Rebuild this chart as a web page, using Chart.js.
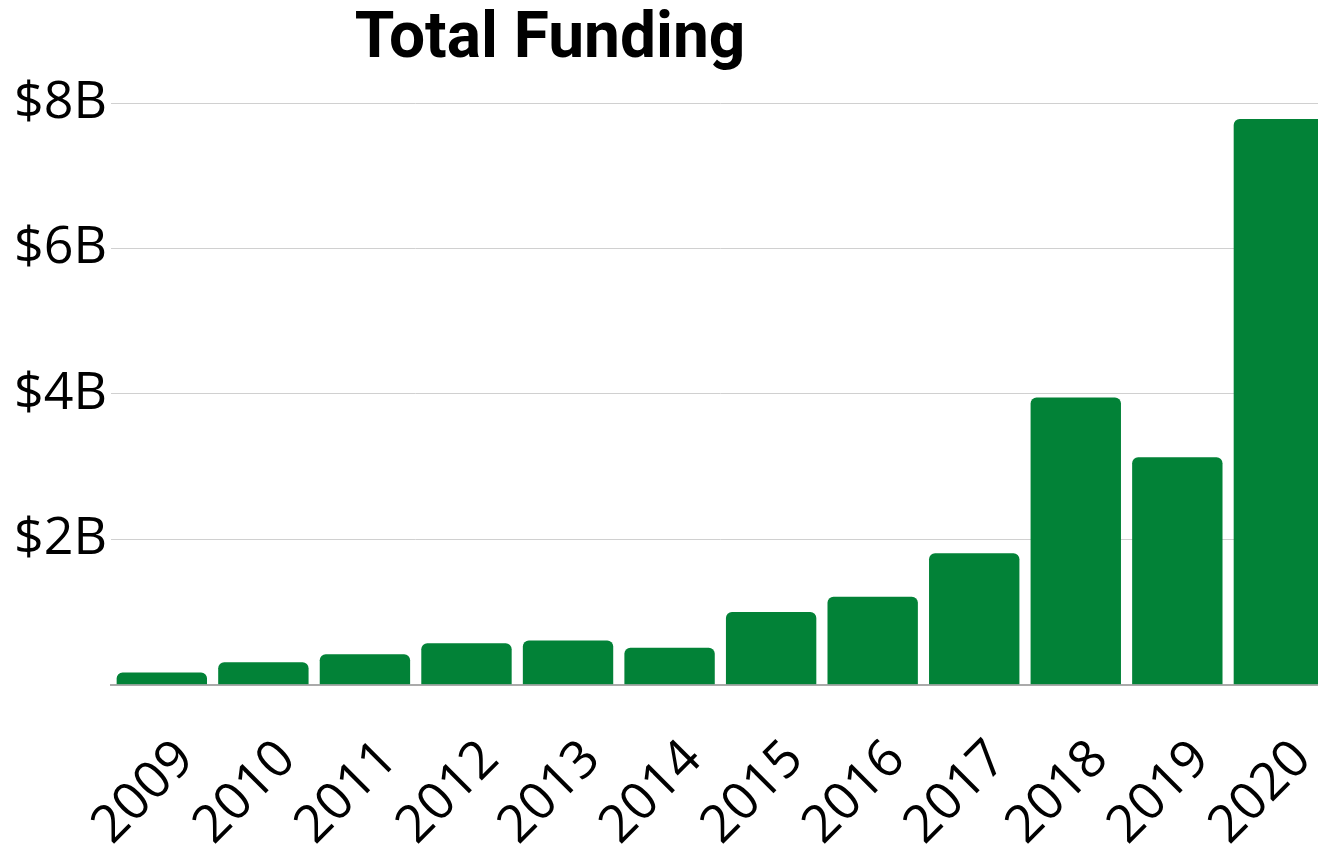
<!DOCTYPE html>
<html>
<head>
<meta charset="utf-8">
<script src="https://cdn.jsdelivr.net/npm/chart.js@4.4.1/dist/chart.umd.min.js"></script>
<style>
  html,body{margin:0;padding:0;background:#fff;overflow:hidden;width:1318px;height:851px;}
  #title{position:absolute;left:300px;top:-4px;width:500px;text-align:center;
    font-family:Roboto,sans-serif;font-weight:700;font-size:64px;line-height:80px;color:#000;}
  #wrap{position:absolute;left:0;top:0;width:1359px;height:893px;}
</style>
</head>
<body>
<div id="title">Total Funding</div>
<div id="wrap"><canvas id="ch"></canvas></div>
<script>
// years + funding ($B)
const YEARS   = ['2009','2010','2011','2012','2013','2014','2015','2016','2017','2018','2019','2020'];
const FUNDING = [0.17, 0.31, 0.42, 0.57, 0.61, 0.51, 1.00, 1.21, 1.81, 3.95, 3.13, 7.78];
const Y_TICKS = [0, 2, 4, 6, 8];

const BAR_GREEN = '#028237';

const el = document.getElementById('ch');
new Chart(el, {
  type: 'bar',
  data: {
    labels: YEARS,
    datasets: [{
      label: 'Total Funding',
      data: FUNDING,
      backgroundColor: BAR_GREEN,
      borderRadius: 6,
      borderSkipped: 'start',
      barPercentage: 0.89,
      categoryPercentage: 1.0
    }]
  },
  options: {
    responsive: true,
    maintainAspectRatio: false,
    animation: false,
    layout: { padding: { top: 103, right: 0, left: 10, bottom: 0 } },
    plugins: { legend: { display: false }, tooltip: { enabled: false }, title: { display: false } },
    scales: {
      x: {
        grid: { display: false },
        border: { display: true, color: '#aaaaaa', width: 2 },
        ticks: {
          color: '#000', font: { family: '"Open Sans", sans-serif', size: 52 },
          minRotation: 45, maxRotation: 45, autoSkip: false, padding: 36, labelOffset: 24
        }
      },
      y: {
        min: Y_TICKS[0], max: Y_TICKS[Y_TICKS.length - 1],
        afterBuildTicks: (ax) => { ax.ticks = Y_TICKS.map(v => ({ value: v })); },
        grid: { color: '#d0d0d0', lineWidth: 1, drawTicks: false },
        border: { display: false },
        ticks: {
          color: '#000', font: { family: '"Open Sans", sans-serif', size: 52 }, padding: 4,
          callback: (v) => v === 0 ? '' : '$' + v + 'B'
        }
      }
    }
  }
});
</script>
</body>
</html>
